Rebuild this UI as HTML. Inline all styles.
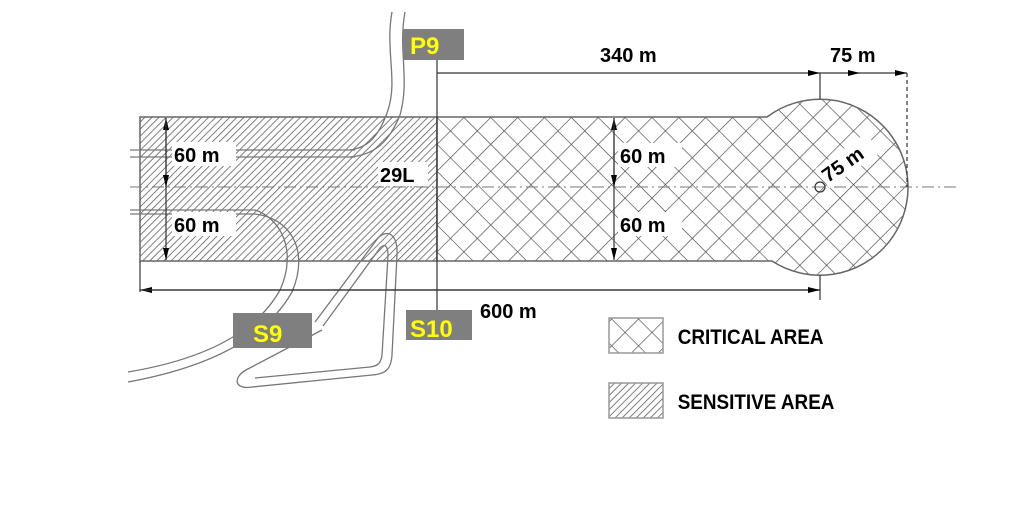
<!DOCTYPE html>
<html><head><style>body{margin:0;background:#fff}svg{display:block}</style></head><body>
<svg width="1033" height="510" viewBox="0 0 1033 510" font-family="Liberation Sans, sans-serif" font-weight="bold">
<defs>
<pattern id="hat" width="5" height="5" patternUnits="userSpaceOnUse" patternTransform="rotate(45)">
<rect width="5" height="5" fill="#fff"/><line x1="0" y1="0" x2="0" y2="5" stroke="#555" stroke-width="1.5"/></pattern>
<pattern id="cross" width="19" height="19" patternUnits="userSpaceOnUse" patternTransform="translate(437,117) rotate(45)">
<rect width="19" height="19" fill="#fff"/><path d="M0 0H19M0 0V19" stroke="#444" stroke-width="1.3"/></pattern>
<marker id="ar" markerWidth="12" markerHeight="8" refX="12" refY="4" orient="auto" markerUnits="userSpaceOnUse"><path d="M0 1L12 4L0 7z" fill="#000"/></marker>
</defs>
<!-- areas -->
<rect x="140" y="117" width="297" height="144" fill="url(#hat)" stroke="#666" stroke-width="1.5"/>
<path d="M437 117H767A88 88 0 1 1 772 261H437Z" fill="url(#cross)" stroke="#666" stroke-width="1.5"/>
<!-- centerline -->
<line x1="130" y1="187" x2="960" y2="187" stroke="#777" stroke-dasharray="12 4 2 4"/>
<!-- taxiway lines -->
<g fill="none" stroke="#777" stroke-width="1.3">
<path d="M130 150H355M130 157H355M130 210H255M130 214H255"/>
<path d="M392 12C385 50 398 80 388 110C378 140 365 148 350 150"/>
<path d="M405 12C398 50 410 80 400 115C388 145 372 155 350 157"/>
<path d="M128 372C200 360 255 335 280 290C298 250 280 218 255 210"/>
<path d="M128 382C205 368 265 340 292 292C310 250 290 218 255 214"/>
<path d="M315 322L378 238C388 228 398 235 397 255L392 355C391 370 385 374 372 375L252 387C235 390 232 378 246 370L322 330"/>
<path d="M323 326L380 248C385 243 388 246 388 256L382 355C381 363 378 366 370 367L255 378"/>
</g>
<!-- dimensions -->
<g stroke="#333" stroke-width="1.2" fill="none">
<line x1="437" y1="60" x2="437" y2="322"/>
<line x1="437" y1="73" x2="820" y2="73" marker-end="url(#ar)"/>
<line x1="820" y1="73" x2="860" y2="73" marker-end="url(#ar)"/>
<line x1="860" y1="73" x2="907" y2="73" marker-end="url(#ar)"/>
<line x1="820" y1="73" x2="820" y2="99"/>
<line x1="907" y1="73" x2="907" y2="187" stroke-dasharray="4 3"/>
<line x1="820" y1="290" x2="140" y2="290" marker-end="url(#ar)"/>
<line x1="140" y1="290" x2="820" y2="290" marker-end="url(#ar)"/>
<line x1="140" y1="261" x2="140" y2="292"/>
<line x1="820" y1="275" x2="820" y2="300"/>
<line x1="166" y1="187" x2="166" y2="118" marker-end="url(#ar)"/>
<line x1="166" y1="187" x2="166" y2="260" marker-end="url(#ar)"/>
<line x1="166" y1="118" x2="166" y2="187" marker-end="url(#ar)"/>
<line x1="614" y1="187" x2="614" y2="118" marker-end="url(#ar)"/>
<line x1="614" y1="187" x2="614" y2="260" marker-end="url(#ar)"/>
<line x1="614" y1="118" x2="614" y2="187" marker-end="url(#ar)"/>
<circle cx="820" cy="187" r="5"/>
</g>
<!-- labels -->
<g font-size="20" fill="#000">
<rect x="172" y="142" width="64" height="24" fill="#fff"/><text x="174" y="162">60 m</text>
<rect x="172" y="212" width="64" height="24" fill="#fff"/><text x="174" y="232">60 m</text>
<rect x="378" y="162" width="50" height="24" fill="#fff"/><text x="380" y="182">29L</text>
<rect x="618" y="143" width="64" height="24" fill="#fff"/><text x="620" y="163">60 m</text>
<rect x="618" y="212" width="64" height="24" fill="#fff"/><text x="620" y="232">60 m</text>
<text x="600" y="62">340 m</text>
<text x="830" y="62">75 m</text>
<text x="480" y="318">600 m</text>
<g transform="translate(828,183) rotate(-35)"><rect x="-2" y="-19" width="62" height="24" fill="#fff"/><text x="0" y="0">75 m</text></g>
</g>
<!-- tags -->
<rect x="403" y="29" width="61" height="31" fill="#7f7f7f"/><text x="410" y="54" font-size="24" fill="#ffff00">P9</text>
<rect x="233" y="313" width="79" height="35" fill="#7f7f7f"/><text x="253" y="342" font-size="24" fill="#ffff00">S9</text>
<rect x="406" y="310" width="66" height="30" fill="#7f7f7f"/><text x="410" y="337" font-size="24" fill="#ffff00">S10</text>
<!-- legend -->
<rect x="609" y="318" width="54" height="35" fill="url(#cross)" stroke="#999" stroke-width="1.5"/>
<rect x="609" y="383" width="54" height="35" fill="url(#hat)" stroke="#999" stroke-width="1.5"/>
<g font-size="21" fill="#000" transform="scale(0.9,1)">
<text x="753" y="344">CRITICAL AREA</text>
<text x="753" y="409">SENSITIVE AREA</text>
</g>
</svg>
</body></html>
